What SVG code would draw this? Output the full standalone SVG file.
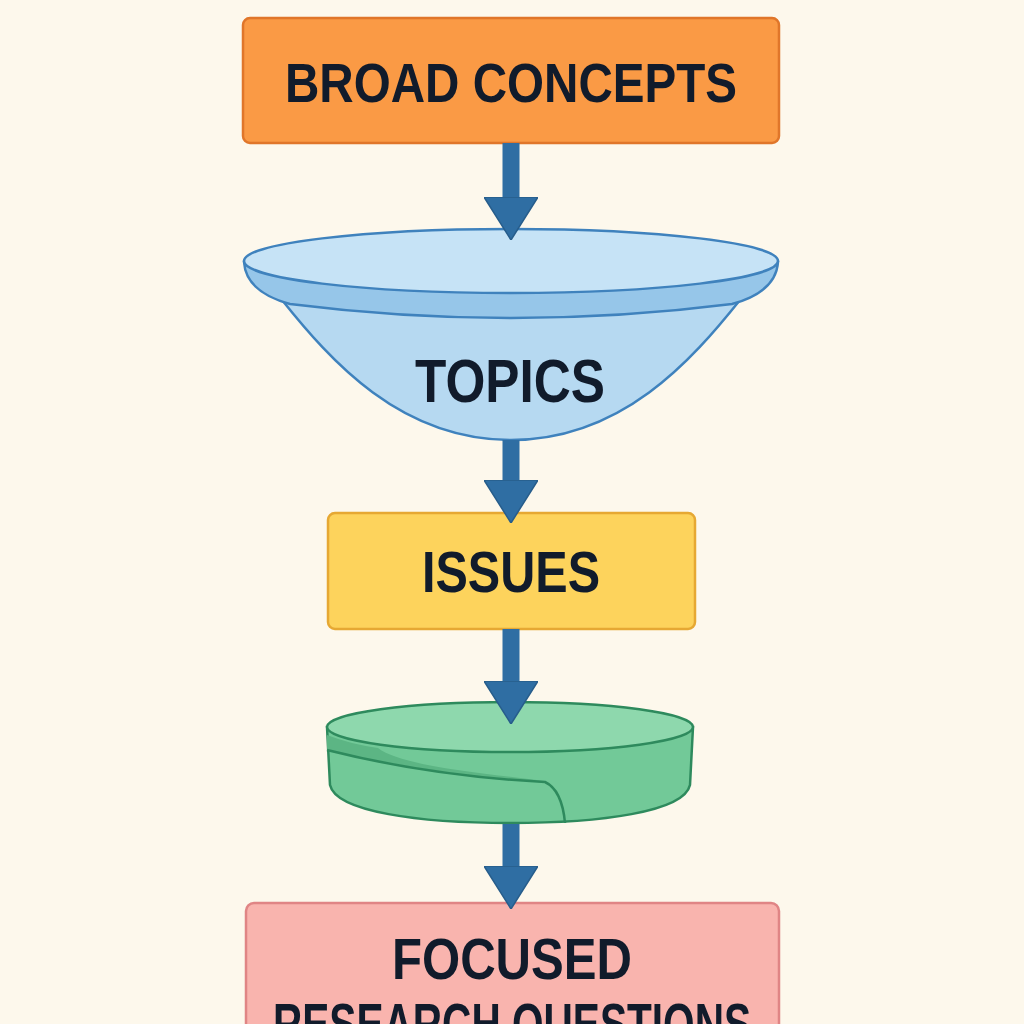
<svg xmlns="http://www.w3.org/2000/svg" width="1024" height="1024" viewBox="0 0 1024 1024">
  <style>
    .lbl { font-family: "Liberation Sans", Arial, sans-serif; font-weight: bold; fill: #111b2b; text-anchor: middle; }
    .box { stroke-width: 2.5; }
    .conn { stroke: #2f6ea3; stroke-width: 17; fill: none; marker-end: url(#head); }
  </style>
  <defs>
    <marker id="head" viewBox="0 0 43 54" refX="1" refY="27" markerWidth="43" markerHeight="54" markerUnits="userSpaceOnUse" orient="auto">
      <path d="M0 0 L43 27 L0 54 Z" fill="#2f6ea3" stroke="#275d8b" stroke-width="1.5"/>
    </marker>
  </defs>
  <rect width="1024" height="1024" fill="#fdf8ec"/>

  <g id="broad-concepts">
    <rect class="box" x="243" y="18" width="536" height="125" rx="7" fill="#fa9a45" stroke="#e0762a"/>
    <text class="lbl" x="511" y="102" font-size="56" textLength="452" lengthAdjust="spacingAndGlyphs">BROAD CONCEPTS</text>
  </g>

  <g id="topics">
    <path d="M282 300 C330 360 400 440 511 440 C622 440 692 360 740 300 Z" fill="#b6d9f1" stroke="#3f82bd" stroke-width="2.5"/>
    <path d="M244 262 Q246 292 290 304 Q511 332 732 304 Q776 292 778 262 Z" fill="#96c6e9" stroke="#3f82bd" stroke-width="2.5"/>
    <ellipse cx="511" cy="261" rx="267" ry="32" fill="#c6e3f6" stroke="#3f82bd" stroke-width="2.5"/>
    <text class="lbl" x="510" y="402" font-size="62" textLength="190" lengthAdjust="spacingAndGlyphs">TOPICS</text>
  </g>

  <g id="issues">
    <rect class="box" x="328" y="513" width="367" height="116" rx="7" fill="#fdd35c" stroke="#e6a833"/>
    <text class="lbl" x="511" y="592" font-size="58" textLength="178" lengthAdjust="spacingAndGlyphs">ISSUES</text>
  </g>

  <g id="disc">
    <path d="M327 727 L330 785 C336 812 420 823 510 823 C600 823 684 812 690 785 L693 727 Z" fill="#72c998" stroke="#2e8a5d" stroke-width="2.5"/>
    <path d="M327 735 Q350 744 378 748 C400 765 470 772 545 781 Q450 778 327 750 Z" fill="#5cb584"/>
    <path d="M327 750 Q430 776 545 782 Q562 790 565 823" fill="none" stroke="#2e8a5d" stroke-width="2.5"/>
    <ellipse cx="510" cy="727" rx="183" ry="25" fill="#8ed8ad" stroke="#2e8a5d" stroke-width="2.5"/>
  </g>

  <g id="focused-research-questions">
    <rect class="box" x="246" y="903" width="533" height="150" rx="8" fill="#f9b4ae" stroke="#e08585"/>
    <text class="lbl" x="512" y="979" font-size="57" textLength="240" lengthAdjust="spacingAndGlyphs">FOCUSED</text>
    <text class="lbl" x="512" y="1044" font-size="57" textLength="478" lengthAdjust="spacingAndGlyphs">RESEARCH QUESTIONS</text>
  </g>

  <g id="connectors">
    <line class="conn" x1="511" y1="143" x2="511" y2="198"/>
    <line class="conn" x1="511" y1="440" x2="511" y2="481"/>
    <line class="conn" x1="511" y1="629" x2="511" y2="682"/>
    <line class="conn" x1="511" y1="824" x2="511" y2="867"/>
  </g>
</svg>
